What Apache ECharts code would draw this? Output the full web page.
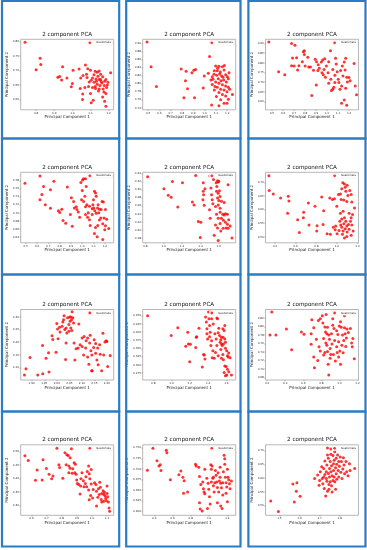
<!DOCTYPE html>
<html><head><meta charset="utf-8">
<script src="https://cdn.jsdelivr.net/npm/echarts@6/dist/echarts.min.js"></script>
<style>html,body{margin:0;padding:0;background:#fff;}#c{width:367px;height:550px;}</style>
</head><body><div id="c"></div>
<script>
const titleText = '2 component PCA';
const xName = 'Principal Component 1';
const yName = 'Principal Component 2';
const seriesName = 'Guatemala';

const pca1 = [[0.739,0.798],[0.822,0.742],[0.826,0.721],[0.800,0.703],[0.946,0.713],[1.004,0.701],[1.037,0.705],[0.920,0.677],[0.930,0.679],[0.941,0.667],[0.970,0.674],[1.046,0.674],[1.000,0.655],[0.994,0.644],[1.043,0.638],[1.057,0.619],[1.056,0.600],[1.072,0.719],[1.085,0.706],[1.078,0.687],[1.100,0.701],[1.111,0.674],[1.126,0.697],[1.137,0.694],[1.148,0.698],[1.156,0.687],[1.141,0.680],[1.130,0.671],[1.104,0.666],[1.093,0.660],[1.120,0.659],[1.148,0.669],[1.167,0.678],[1.185,0.669],[1.196,0.659],[1.211,0.692],[1.163,0.657],[1.152,0.648],[1.137,0.652],[1.126,0.645],[1.176,0.648],[1.189,0.641],[1.170,0.636],[1.148,0.636],[1.128,0.638],[1.111,0.641],[1.089,0.645],[1.069,0.641],[1.100,0.620],[1.115,0.597],[1.104,0.588],[1.174,0.626],[1.185,0.620],[1.167,0.608],[1.178,0.594],[1.185,0.576],[1.144,0.629],[1.159,0.662],[1.178,0.663],[1.133,0.663],[1.156,0.669],[1.193,0.650],[1.081,0.676],[1.059,0.683],[1.119,0.685]];
const pca2 = [[0.491,0.903],[0.527,0.842],[0.574,0.793],[0.793,0.836],[0.837,0.831],[0.831,0.807],[0.849,0.787],[0.817,0.765],[0.888,0.827],[0.905,0.833],[0.920,0.835],[0.911,0.765],[0.988,0.789],[0.997,0.819],[1.044,0.867],[1.033,0.826],[1.056,0.809],[1.068,0.798],[1.086,0.784],[1.104,0.768],[1.062,0.747],[1.098,0.844],[1.127,0.843],[1.157,0.842],[1.112,0.832],[1.139,0.829],[1.172,0.834],[1.083,0.823],[1.107,0.821],[1.151,0.819],[1.186,0.822],[1.201,0.817],[1.216,0.827],[1.121,0.812],[1.145,0.807],[1.169,0.809],[1.192,0.804],[1.210,0.812],[1.074,0.811],[1.098,0.804],[1.127,0.801],[1.157,0.797],[1.186,0.794],[1.210,0.791],[1.112,0.791],[1.142,0.786],[1.172,0.784],[1.198,0.780],[1.222,0.786],[1.092,0.793],[1.127,0.778],[1.157,0.773],[1.186,0.769],[1.210,0.761],[1.246,0.773],[1.142,0.760],[1.172,0.751],[1.127,0.745],[1.198,0.751],[1.163,0.816],[1.133,0.824],[1.086,0.832],[1.175,0.845],[1.115,0.838],[1.068,0.817]];
const pca3 = [[0.472,0.907],[0.561,0.754],[0.617,0.739],[0.678,0.900],[0.709,0.891],[0.687,0.825],[0.724,0.826],[0.678,0.785],[0.702,0.784],[0.745,0.785],[0.733,0.763],[0.785,0.857],[0.794,0.862],[0.794,0.843],[0.776,0.806],[0.825,0.828],[0.801,0.784],[0.834,0.778],[0.850,0.778],[0.862,0.631],[0.877,0.761],[0.893,0.818],[0.905,0.806],[0.902,0.686],[0.920,0.790],[0.929,0.772],[0.917,0.760],[0.948,0.804],[0.960,0.814],[0.979,0.821],[0.994,0.784],[0.954,0.749],[0.966,0.739],[0.985,0.725],[0.972,0.766],[1.031,0.862],[1.015,0.806],[1.009,0.749],[1.034,0.715],[1.015,0.695],[1.052,0.766],[1.061,0.674],[1.077,0.823],[1.083,0.794],[1.092,0.754],[1.071,0.736],[1.101,0.715],[1.052,0.664],[1.040,0.657],[1.107,0.698],[1.123,0.760],[1.138,0.784],[1.144,0.732],[1.132,0.681],[1.156,0.804],[1.169,0.823],[1.163,0.763],[1.178,0.725],[1.184,0.701],[1.169,0.669],[1.199,0.724],[1.209,0.708],[1.156,0.609],[1.132,0.592],[1.178,0.582],[1.245,0.796],[1.255,0.681],[1.267,0.636],[1.117,0.664],[1.071,0.698]];
const pca4 = [[0.494,0.773],[0.626,0.791],[0.658,0.765],[0.643,0.745],[0.626,0.732],[0.673,0.720],[0.719,0.757],[0.749,0.778],[0.719,0.711],[0.789,0.705],[0.801,0.701],[0.819,0.709],[0.830,0.681],[0.854,0.674],[0.868,0.764],[0.895,0.696],[0.912,0.667],[0.904,0.737],[0.924,0.728],[0.930,0.712],[0.947,0.715],[0.953,0.708],[0.965,0.702],[0.977,0.689],[0.988,0.775],[1.003,0.781],[1.012,0.784],[1.029,0.784],[1.000,0.755],[0.994,0.732],[1.012,0.728],[1.023,0.741],[1.035,0.765],[1.041,0.720],[1.029,0.696],[1.053,0.700],[1.047,0.689],[1.064,0.683],[1.070,0.669],[1.088,0.710],[1.099,0.732],[1.108,0.753],[1.117,0.749],[1.123,0.741],[1.102,0.712],[1.111,0.705],[1.123,0.699],[1.135,0.712],[1.140,0.720],[1.152,0.709],[1.146,0.700],[1.167,0.708],[1.175,0.728],[1.187,0.727],[1.164,0.687],[1.152,0.682],[1.137,0.669],[1.117,0.664],[1.108,0.649],[1.132,0.641],[1.181,0.673],[1.193,0.687],[1.205,0.668],[1.216,0.684],[1.234,0.661],[1.199,0.658],[1.181,0.634],[1.088,0.696],[1.064,0.716],[1.029,0.715],[1.094,0.720],[1.205,0.708]];
const pca5 = [[0.825,0.332],[1.002,0.302],[1.049,0.286],[1.081,0.281],[1.095,0.320],[1.153,0.257],[1.204,0.317],[1.312,0.269],[1.330,0.262],[1.348,0.335],[1.377,0.221],[1.405,0.219],[1.398,0.181],[1.431,0.317],[1.431,0.296],[1.427,0.275],[1.441,0.261],[1.434,0.287],[1.449,0.302],[1.503,0.334],[1.499,0.250],[1.506,0.229],[1.521,0.287],[1.528,0.275],[1.535,0.265],[1.514,0.304],[1.542,0.325],[1.550,0.187],[1.564,0.337],[1.571,0.317],[1.578,0.308],[1.586,0.322],[1.593,0.319],[1.600,0.321],[1.575,0.296],[1.593,0.291],[1.607,0.297],[1.586,0.279],[1.600,0.273],[1.614,0.283],[1.593,0.262],[1.614,0.254],[1.575,0.239],[1.593,0.229],[1.564,0.212],[1.586,0.205],[1.614,0.216],[1.629,0.229],[1.643,0.239],[1.658,0.237],[1.672,0.240],[1.694,0.239],[1.650,0.224],[1.672,0.219],[1.694,0.214],[1.708,0.225],[1.679,0.205],[1.701,0.204],[1.723,0.210],[1.647,0.204],[1.622,0.197],[1.593,0.174],[1.701,0.312],[1.658,0.268],[1.744,0.180],[1.564,0.258],[1.614,0.244],[1.629,0.271]];
const pca6 = [[0.342,0.724],[0.345,0.670],[0.384,0.657],[0.455,0.643],[0.529,0.649],[0.536,0.632],[0.523,0.587],[0.620,0.563],[0.636,0.516],[0.675,0.570],[0.678,0.590],[0.724,0.624],[0.730,0.543],[0.788,0.612],[0.808,0.541],[0.805,0.521],[0.853,0.646],[0.872,0.596],[0.866,0.545],[0.905,0.511],[0.937,0.509],[0.931,0.643],[0.957,0.637],[0.976,0.640],[0.999,0.612],[0.966,0.535],[0.983,0.526],[0.989,0.540],[1.015,0.655],[1.034,0.657],[1.041,0.637],[1.057,0.699],[1.047,0.677],[1.073,0.694],[1.080,0.682],[1.099,0.689],[1.086,0.667],[1.106,0.652],[1.067,0.635],[1.096,0.630],[1.125,0.670],[1.138,0.655],[1.144,0.628],[1.170,0.606],[1.034,0.587],[1.060,0.594],[1.047,0.565],[1.028,0.557],[1.073,0.570],[1.067,0.548],[1.086,0.557],[1.096,0.540],[1.047,0.535],[1.021,0.523],[1.060,0.521],[1.080,0.530],[1.099,0.518],[1.118,0.528],[1.112,0.545],[1.131,0.557],[1.138,0.570],[1.144,0.543],[1.157,0.521],[1.138,0.506],[1.096,0.501],[1.054,0.509],[1.118,0.587],[1.151,0.582],[1.037,0.543],[1.002,0.511],[1.073,0.496]];
const pca7 = [[1.871,0.071],[1.877,0.095],[1.893,0.140],[1.924,0.071],[1.944,0.076],[1.943,0.187],[1.957,0.137],[1.969,0.083],[1.967,0.158],[1.981,0.225],[1.984,0.211],[1.997,0.160],[2.000,0.274],[2.005,0.214],[2.003,0.252],[2.011,0.259],[2.013,0.240],[2.021,0.263],[2.024,0.280],[2.027,0.289],[2.029,0.304],[2.035,0.132],[2.037,0.197],[2.032,0.250],[2.037,0.256],[2.040,0.236],[2.043,0.296],[2.048,0.270],[2.051,0.299],[2.056,0.299],[2.053,0.283],[2.059,0.289],[2.061,0.320],[2.064,0.296],[2.067,0.276],[2.056,0.256],[2.048,0.243],[2.060,0.246],[2.072,0.130],[2.069,0.197],[2.077,0.174],[2.085,0.177],[2.088,0.272],[2.093,0.190],[2.101,0.217],[2.109,0.223],[2.115,0.177],[2.107,0.150],[2.117,0.206],[2.123,0.217],[2.128,0.113],[2.131,0.197],[2.133,0.227],[2.139,0.087],[2.141,0.087],[2.136,0.166],[2.140,0.150],[2.147,0.179],[2.149,0.210],[2.155,0.195],[2.160,0.130],[2.163,0.177],[2.165,0.111],[2.171,0.190],[2.173,0.153],[2.179,0.087],[2.184,0.235],[2.187,0.150],[2.192,0.201],[2.197,0.206],[2.203,0.104],[2.213,0.148],[2.200,0.203],[2.155,0.156],[2.101,0.183],[2.123,0.142]];
const pca8 = [[0.738,0.450],[0.996,0.390],[1.068,0.413],[1.177,0.400],[1.155,0.357],[1.184,0.364],[1.206,0.363],[1.199,0.310],[1.264,0.353],[1.275,0.386],[1.271,0.384],[1.300,0.412],[1.336,0.294],[1.351,0.332],[1.358,0.330],[1.365,0.318],[1.372,0.446],[1.380,0.431],[1.387,0.410],[1.387,0.395],[1.394,0.379],[1.405,0.461],[1.423,0.461],[1.409,0.441],[1.416,0.420],[1.423,0.400],[1.416,0.386],[1.430,0.359],[1.438,0.374],[1.438,0.441],[1.456,0.425],[1.452,0.343],[1.445,0.322],[1.467,0.320],[1.481,0.338],[1.496,0.443],[1.503,0.441],[1.474,0.395],[1.488,0.379],[1.510,0.398],[1.525,0.390],[1.539,0.377],[1.532,0.369],[1.546,0.364],[1.554,0.359],[1.568,0.364],[1.546,0.384],[1.564,0.384],[1.583,0.379],[1.590,0.369],[1.561,0.410],[1.575,0.405],[1.583,0.420],[1.590,0.351],[1.604,0.343],[1.612,0.328],[1.626,0.336],[1.619,0.324],[1.641,0.322],[1.568,0.316],[1.546,0.320],[1.539,0.347],[1.561,0.332],[1.583,0.297],[1.597,0.295],[1.612,0.287],[1.626,0.279],[1.575,0.277],[1.604,0.269],[1.655,0.269],[1.590,0.267],[1.510,0.328],[1.496,0.359],[1.517,0.412]];
const pca9 = [[0.232,0.780],[0.251,0.834],[0.297,0.780],[0.413,0.794],[0.471,0.745],[0.579,0.787],[0.608,0.782],[0.687,0.783],[0.687,0.758],[0.695,0.816],[0.716,0.728],[0.716,0.797],[0.723,0.703],[0.745,0.770],[0.760,0.720],[0.767,0.814],[0.774,0.752],[0.788,0.818],[0.788,0.742],[0.810,0.825],[0.817,0.808],[0.825,0.772],[0.825,0.733],[0.839,0.799],[0.839,0.739],[0.846,0.787],[0.850,0.761],[0.853,0.828],[0.861,0.783],[0.861,0.756],[0.868,0.798],[0.868,0.741],[0.875,0.711],[0.882,0.686],[0.882,0.780],[0.890,0.770],[0.897,0.748],[0.904,0.734],[0.911,0.783],[0.918,0.759],[0.926,0.818],[0.926,0.803],[0.933,0.734],[0.940,0.795],[0.947,0.767],[0.955,0.719],[0.962,0.832],[0.969,0.790],[0.969,0.752],[0.976,0.739],[0.983,0.781],[0.991,0.764],[0.998,0.801],[1.005,0.742],[1.012,0.711],[1.019,0.798],[1.027,0.756],[1.034,0.780],[1.041,0.738],[1.048,0.767],[1.056,0.825],[1.056,0.797],[1.063,0.783],[1.070,0.753],[1.077,0.773],[1.084,0.794],[1.099,0.786],[1.121,0.795],[1.135,0.761],[1.142,0.752],[1.149,0.772],[1.164,0.724],[0.991,0.728],[0.897,0.725],[1.012,0.811]];
const pca10 = [[0.556,0.484],[0.578,0.467],[0.626,0.393],[0.637,0.431],[0.670,0.394],[0.676,0.469],[0.698,0.437],[0.716,0.416],[0.733,0.399],[0.742,0.409],[0.768,0.512],[0.781,0.451],[0.786,0.441],[0.807,0.401],[0.821,0.495],[0.834,0.488],[0.842,0.485],[0.855,0.477],[0.864,0.510],[0.829,0.451],[0.847,0.446],[0.855,0.438],[0.847,0.421],[0.869,0.419],[0.873,0.436],[0.882,0.458],[0.890,0.453],[0.886,0.421],[0.895,0.416],[0.899,0.394],[0.903,0.381],[0.912,0.377],[0.921,0.342],[0.925,0.372],[0.934,0.421],[0.943,0.391],[0.947,0.369],[0.956,0.381],[0.960,0.406],[0.969,0.426],[0.978,0.446],[0.982,0.417],[0.986,0.399],[0.978,0.357],[0.982,0.321],[0.995,0.433],[0.995,0.379],[0.991,0.337],[1.004,0.327],[1.008,0.359],[1.017,0.384],[1.026,0.377],[1.030,0.352],[1.039,0.330],[1.048,0.340],[1.030,0.298],[1.052,0.386],[1.056,0.367],[1.061,0.322],[1.065,0.344],[1.074,0.354],[1.078,0.340],[1.083,0.349],[1.087,0.335],[1.091,0.325],[1.096,0.317],[1.100,0.372],[1.100,0.344],[1.104,0.332],[1.109,0.312],[1.113,0.290],[1.117,0.278],[1.043,0.362],[1.065,0.312],[1.078,0.315],[0.965,0.369],[0.927,0.399]];
const pca11 = [[0.324,0.697],[0.385,0.749],[0.429,0.719],[0.451,0.707],[0.465,0.710],[0.473,0.696],[0.531,0.744],[0.538,0.738],[0.575,0.674],[0.669,0.686],[0.691,0.695],[0.713,0.680],[0.727,0.672],[0.720,0.642],[0.764,0.645],[0.851,0.711],[0.858,0.707],[0.887,0.704],[0.895,0.682],[0.895,0.620],[0.902,0.605],[0.924,0.600],[0.909,0.663],[0.931,0.669],[0.938,0.653],[0.945,0.645],[0.953,0.641],[0.953,0.699],[0.975,0.678],[0.982,0.606],[0.989,0.666],[0.996,0.652],[1.004,0.634],[1.011,0.617],[1.018,0.710],[1.025,0.699],[1.033,0.707],[1.025,0.669],[1.040,0.678],[1.047,0.660],[1.055,0.645],[1.062,0.667],[1.069,0.696],[1.076,0.685],[1.084,0.669],[1.091,0.656],[1.091,0.620],[1.098,0.691],[1.105,0.645],[1.113,0.671],[1.120,0.680],[1.127,0.666],[1.127,0.612],[1.135,0.655],[1.142,0.606],[1.149,0.667],[1.149,0.638],[1.156,0.693],[1.164,0.732],[1.171,0.724],[1.171,0.711],[1.178,0.680],[1.185,0.667],[1.193,0.657],[1.200,0.699],[1.207,0.680],[1.215,0.674],[1.222,0.665],[1.200,0.622],[1.229,0.653],[1.244,0.671],[1.185,0.642],[1.120,0.704],[1.047,0.680]];
const pca12 = [[1.457,0.517],[1.495,0.479],[1.567,0.579],[1.574,0.513],[1.587,0.583],[1.584,0.552],[1.603,0.534],[1.675,0.599],[1.690,0.611],[1.700,0.591],[1.703,0.623],[1.697,0.574],[1.710,0.641],[1.713,0.599],[1.716,0.580],[1.720,0.635],[1.723,0.562],[1.726,0.662],[1.726,0.613],[1.730,0.535],[1.733,0.623],[1.733,0.599],[1.736,0.648],[1.736,0.589],[1.739,0.709],[1.739,0.684],[1.743,0.672],[1.743,0.617],[1.746,0.577],[1.746,0.560],[1.749,0.635],[1.749,0.604],[1.752,0.660],[1.752,0.587],[1.756,0.687],[1.756,0.623],[1.759,0.645],[1.759,0.572],[1.762,0.609],[1.762,0.550],[1.766,0.682],[1.766,0.591],[1.769,0.628],[1.769,0.652],[1.772,0.604],[1.772,0.665],[1.775,0.696],[1.775,0.587],[1.779,0.638],[1.782,0.616],[1.782,0.672],[1.785,0.650],[1.785,0.596],[1.789,0.684],[1.792,0.628],[1.795,0.660],[1.795,0.604],[1.798,0.643],[1.802,0.677],[1.805,0.621],[1.808,0.660],[1.811,0.599],[1.815,0.633],[1.818,0.674],[1.821,0.648],[1.824,0.616],[1.831,0.660],[1.834,0.623],[1.841,0.609],[1.848,0.652],[1.851,0.628],[1.874,0.635],[1.739,0.552],[1.720,0.604],[1.756,0.706],[1.779,0.560]];

const panels = [pca1, pca2, pca3, pca4, pca5, pca6, pca7, pca8, pca9, pca10, pca11, pca12];

const xTicks = [
  [0.8,0.9,1.0,1.1,1.2],
  [0.5,0.6,0.7,0.8,0.9,1.0,1.1,1.2],
  [0.5,0.6,0.7,0.8,0.9,1.0,1.1,1.2],
  [0.5,0.6,0.7,0.8,0.9,1.0,1.1,1.2],
  [0.8,1.0,1.2,1.4,1.6],
  [0.4,0.6,0.8,1.0,1.2],
  [1.90,1.95,2.00,2.05,2.10,2.15,2.20],
  [0.8,1.0,1.2,1.4,1.6],
  [0.2,0.4,0.6,0.8,1.0,1.2],
  [0.6,0.7,0.8,0.9,1.0,1.1],
  [0.4,0.6,0.8,1.0,1.2],
  [1.5,1.6,1.7,1.8]
];
const yTicks = [
  [0.60,0.65,0.70,0.75,0.80],
  [0.74,0.76,0.78,0.80,0.82,0.84,0.86,0.88,0.90],
  [0.60,0.65,0.70,0.75,0.80,0.85,0.90],
  [0.64,0.66,0.68,0.70,0.72,0.74,0.76,0.78],
  [0.18,0.20,0.22,0.24,0.26,0.28,0.30,0.32,0.34],
  [0.50,0.55,0.60,0.65,0.70],
  [0.10,0.15,0.20,0.25,0.30],
  [0.275,0.300,0.325,0.350,0.375,0.400,0.425,0.450],
  [0.68,0.70,0.72,0.74,0.76,0.78,0.80,0.82],
  [0.30,0.35,0.40,0.45,0.50],
  [0.600,0.625,0.650,0.675,0.700,0.725,0.750],
  [0.50,0.55,0.60,0.65,0.70]
];
const xRange = [[0.715,1.228],[0.453,1.275],[0.442,1.285],[0.456,1.278],[0.771,1.784],[0.309,1.209],[1.856,2.227],[0.684,1.702],[0.182,1.211],[0.528,1.144],[0.273,1.291],[1.431,1.893]];
const yRange = [[0.564,0.808],[0.735,0.910],[0.558,0.921],[0.626,0.800],[0.168,0.343],[0.478,0.737],[0.051,0.329],[0.254,0.469],[0.674,0.840],[0.263,0.525],[0.590,0.757],[0.465,0.721]];
const xDecimals = [1,1,1,1,1,1,2,1,1,1,1,1];
const yDecimals = [2,2,2,2,2,2,2,3,2,2,3,2];

// layout (pixels)
const W = 367;
const plotLeft = [20.7, 142.7, 265.5];
const plotTop = [39.3, 172.3, 309.5, 444.8];
const plotW = 93, plotH = 70.5;
const frameX = [[2, 119.2], [126.2, 240.5], [248.4, 365.5]];
const frameY = [1, 138.5, 274.5, 411.5, 546.5];
const blue = '#2a7cc4';
const font = '"DejaVu Sans", "Liberation Sans", sans-serif';

const grids = [], xAxes = [], yAxes = [], series = [], legends = [], graphics = [];
for (let i = 0; i < 12; i++) {
  const c = i % 3, r = Math.floor(i / 3);
  const L = plotLeft[c], T = plotTop[r];
  grids.push({left: L, top: T, width: plotW, height: plotH, show: true,
    borderColor: '#9a9a9a', borderWidth: 0.7, backgroundColor: '#fff', containLabel: false});
  const xd = xDecimals[i], yd = yDecimals[i];
  xAxes.push({type: 'value', gridIndex: i, min: xRange[i][0], max: xRange[i][1],
    axisLine: {show: false}, splitLine: {show: false},
    axisTick: {show: true, customValues: xTicks[i], length: 1.3, lineStyle: {color: '#555', width: 0.4}},
    axisLabel: {customValues: xTicks[i], fontSize: 2.8, color: '#333', margin: 1.6, fontFamily: font,
      formatter: v => Number(v).toFixed(xd)},
    name: xName, nameLocation: 'middle', nameGap: 4.6,
    nameTextStyle: {fontSize: 4, color: '#222', fontFamily: font}});
  yAxes.push({type: 'value', gridIndex: i, min: yRange[i][0], max: yRange[i][1],
    axisLine: {show: false}, splitLine: {show: false},
    axisTick: {show: true, customValues: yTicks[i], length: 1.3, lineStyle: {color: '#555', width: 0.4}},
    axisLabel: {customValues: yTicks[i], fontSize: 2.8, color: '#333', margin: 1.6, fontFamily: font,
      formatter: v => Number(v).toFixed(yd)},
    name: yName, nameLocation: 'middle', nameGap: 10.5,
    nameTextStyle: {fontSize: 4, color: '#222', fontFamily: font}});
  series.push({type: 'scatter', name: seriesName, xAxisIndex: i, yAxisIndex: i,
    data: panels[i], symbol: 'circle', symbolSize: 3, itemStyle: {color: '#ff0000'}, animation: false});
  legends.push({data: [seriesName], right: W - (L + plotW) + 1.3, top: T + 1.2,
    icon: 'circle', itemWidth: 2.8, itemHeight: 2.8, itemGap: 0, padding: [0.8, 1.4, 0.8, 1.2],
    borderColor: '#dddddd', borderWidth: 0.3, borderRadius: 1, backgroundColor: '#fff',
    selectedMode: false, textStyle: {fontSize: 2.7, color: '#222', fontFamily: font}});
  graphics.push({type: 'text', x: L + plotW / 2, y: T - 5.2, silent: true,
    style: {text: titleText, fontSize: 5.6, fontFamily: font, fill: '#111',
      align: 'center', verticalAlign: 'middle', textAlign: 'center', textVerticalAlign: 'middle'}});
  graphics.push({type: 'rect', silent: true, z: 100,
    shape: {x: frameX[c][0], y: frameY[r], width: frameX[c][1] - frameX[c][0], height: frameY[r + 1] - frameY[r]},
    style: {fill: 'none', stroke: blue, lineWidth: 2.2}});
}

const chart = echarts.init(document.getElementById('c'), null, {renderer: 'canvas'});
chart.setOption({
  animation: false,
  backgroundColor: '#fff',
  grid: grids, xAxis: xAxes, yAxis: yAxes, series: series, legend: legends,
  graphic: graphics
});
</script>
</body></html>
